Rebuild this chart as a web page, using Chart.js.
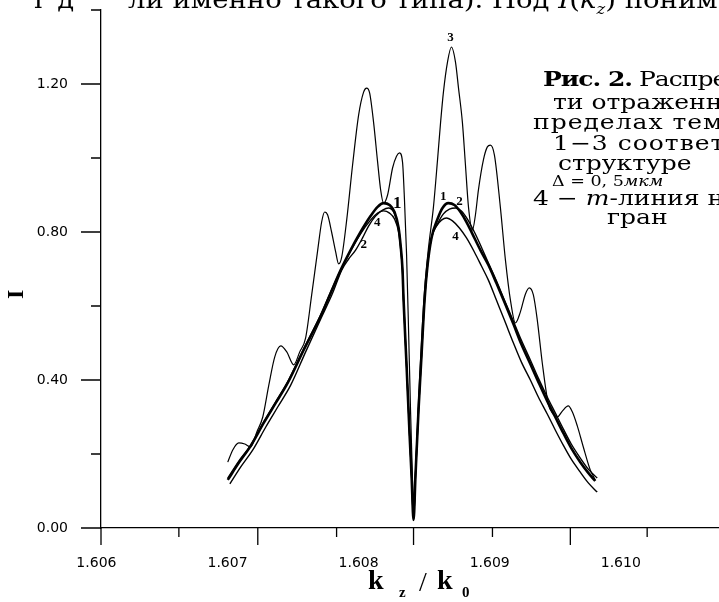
<!DOCTYPE html>
<html>
<head>
<meta charset="utf-8">
<script src="https://cdn.jsdelivr.net/npm/chart.js@4.4.1/dist/chart.umd.min.js"></script>
<style>
  html, body { margin: 0; padding: 0; background: #fff; }
  #wrap { position: relative; width: 719px; height: 602px; overflow: hidden; }
  #chart { position: absolute; left: 0; top: 0; }
  .t { position: absolute; white-space: nowrap; color: #000; line-height: 1; }
  .cap { font-family: "DejaVu Serif", serif; font-size: 20px; transform: scaleX(1.25); transform-origin: 0 0; }
  .top { font-family: "DejaVu Serif", serif; font-size: 25px; transform: scaleX(1.1); transform-origin: 0 0; }
  .kk { font-family: "Liberation Serif", serif; font-weight: bold; font-size: 28px; }
  .sb { font-family: "Liberation Serif", serif; font-weight: bold; font-size: 15px; }
</style>
</head>
<body>
<div id="wrap">
  <canvas id="chart" width="719" height="602"></canvas>

  <div class="t top" style="left:34px; top:-13px;">г д</div>
  <div class="t top" style="left:128px; top:-13px;">ли именно такого типа). Под <i>I</i>(<i>k<sub style="font-size:15px">z</sub></i>) понимается</div>

  <div class="t cap" style="left:543px; top:69px; letter-spacing:-0.8px;"><b>Рис. 2.</b> Распределение</div>
  <div class="t cap" style="left:553px; top:92px;">ти отраженного</div>
  <div class="t cap" style="left:533px; top:112px; letter-spacing:0.8px;">пределах темного</div>
  <div class="t cap" style="left:553px; top:133px; letter-spacing:0.8px;">1−3 соответствуют</div>
  <div class="t cap" style="left:558px; top:153px;">структуре</div>
  <div class="t cap" style="left:552px; top:174px; font-size:14px;">Δ = 0, 5<i>мкм</i></div>
  <div class="t cap" style="left:533px; top:188px;">4 − <i>m</i>-линия на</div>
  <div class="t cap" style="left:607px; top:207px;">гран</div>

  <div class="t kk" style="left:368px; top:566px;">k</div>
  <div class="t sb" style="left:399px; top:585px;">z</div>
  <div class="t kk" style="left:419px; top:568px; font-weight:normal;">/</div>
  <div class="t kk" style="left:437px; top:566px;">k</div>
  <div class="t sb" style="left:462px; top:585px;">0</div>

  <div class="t kk" style="left:7px; top:279px; font-size:24px; transform:rotate(-90deg); transform-origin:8px 12px;">I</div>
</div>

<script>
// reflected intensity I vs kz/k0
var curve1 = [
  [1.607002,0.130],[1.607086,0.176],[1.607177,0.222],[1.607276,0.284],[1.607368,0.338],[1.607459,0.392],
  [1.607581,0.481],[1.607711,0.573],[1.607787,0.635],[1.607863,0.697],[1.607939,0.751],[1.608015,0.800],
  [1.608091,0.843],[1.608145,0.868],[1.608190,0.878],[1.608236,0.873],[1.608274,0.854],[1.608305,0.811],
  [1.608320,0.765],[1.608335,0.697],[1.608343,0.616],[1.608366,0.438],[1.608388,0.259],[1.608404,0.141],
  [1.608419,0.022],
  [1.608434,0.143],[1.608457,0.319],[1.608480,0.468],[1.608503,0.616],[1.608526,0.711],[1.608556,0.784],
  [1.608602,0.835],[1.608640,0.865],[1.608685,0.878],[1.608731,0.873],[1.608777,0.854],[1.608823,0.827],
  [1.608868,0.795],[1.608929,0.751],[1.608990,0.711],[1.609051,0.662],[1.609112,0.611],[1.609181,0.551],
  [1.609241,0.497],[1.609310,0.443],[1.609371,0.395],[1.609439,0.343],[1.609500,0.300],[1.609561,0.257],
  [1.609622,0.216],[1.609691,0.178],[1.609752,0.149],[1.609805,0.127]
];
var curve2 = [
  [1.607018,0.119],[1.607101,0.165],[1.607193,0.211],[1.607292,0.273],[1.607383,0.327],[1.607482,0.386],
  [1.607596,0.476],[1.607711,0.565],[1.607802,0.635],[1.607871,0.697],[1.607924,0.727],[1.607977,0.751],
  [1.608030,0.784],[1.608076,0.816],[1.608129,0.843],[1.608183,0.859],[1.608228,0.865],[1.608267,0.854],
  [1.608305,0.811],[1.608320,0.765],[1.608335,0.697],[1.608343,0.616],[1.608366,0.438],[1.608388,0.259],
  [1.608404,0.141],[1.608419,0.022],
  [1.608434,0.143],[1.608457,0.319],[1.608480,0.468],[1.608503,0.616],[1.608526,0.711],[1.608556,0.784],
  [1.608602,0.822],[1.608647,0.849],[1.608693,0.862],[1.608739,0.865],[1.608784,0.857],[1.608830,0.835],
  [1.608883,0.800],[1.608937,0.759],[1.608990,0.716],[1.609051,0.668],[1.609112,0.616],[1.609181,0.559],
  [1.609241,0.508],[1.609310,0.454],[1.609371,0.405],[1.609439,0.354],[1.609500,0.311],[1.609561,0.268],
  [1.609622,0.227],[1.609691,0.189],[1.609752,0.159],[1.609820,0.135]
];
var curve3 = [
  [1.607002,0.178],[1.607040,0.211],[1.607086,0.230],[1.607132,0.227],[1.607177,0.219],[1.607223,0.259],
  [1.607269,0.300],[1.607315,0.386],[1.607360,0.462],[1.607406,0.492],[1.607452,0.476],[1.607505,0.441],
  [1.607551,0.476],[1.607596,0.514],[1.607642,0.630],[1.607688,0.751],[1.607718,0.827],[1.607741,0.854],
  [1.607764,0.846],[1.607794,0.800],[1.607825,0.746],[1.607848,0.714],[1.607871,0.732],[1.607909,0.832],
  [1.607954,0.981],[1.608000,1.116],[1.608038,1.178],[1.608061,1.189],[1.608084,1.176],[1.608114,1.097],
  [1.608145,0.989],[1.608168,0.914],[1.608190,0.878],[1.608221,0.900],[1.608259,0.973],[1.608289,1.005],
  [1.608312,1.014],[1.608335,0.989],[1.608350,0.886],[1.608366,0.738],[1.608381,0.535],[1.608396,0.319],
  [1.608411,0.130],[1.608419,0.022],
  [1.608434,0.157],[1.608457,0.346],[1.608480,0.508],[1.608503,0.643],[1.608533,0.757],[1.608571,0.868],
  [1.608602,0.995],[1.608625,1.095],[1.608647,1.178],[1.608678,1.259],[1.608708,1.300],[1.608739,1.259],
  [1.608762,1.189],[1.608792,1.095],[1.608815,0.981],[1.608838,0.868],[1.608868,0.805],[1.608891,0.846],
  [1.608914,0.914],[1.608952,0.995],[1.608982,1.030],[1.609005,1.035],[1.609036,1.008],[1.609081,0.868],
  [1.609120,0.724],[1.609158,0.616],[1.609196,0.554],[1.609234,0.584],[1.609272,0.632],[1.609302,0.649],
  [1.609333,0.630],[1.609363,0.562],[1.609401,0.446],[1.609447,0.335],[1.609485,0.308],[1.609516,0.300],
  [1.609554,0.316],[1.609599,0.330],[1.609630,0.314],[1.609668,0.276],[1.609714,0.219],[1.609767,0.157],
  [1.609805,0.130]
];
var curve4 = [
  [1.607002,0.135],[1.607086,0.181],[1.607177,0.224],[1.607276,0.286],[1.607368,0.341],[1.607459,0.395],
  [1.607581,0.484],[1.607711,0.576],[1.607787,0.638],[1.607863,0.697],[1.607939,0.749],[1.608015,0.795],
  [1.608091,0.832],[1.608145,0.851],[1.608190,0.857],[1.608236,0.851],[1.608274,0.835],[1.608305,0.800],
  [1.608320,0.757],[1.608335,0.692],[1.608343,0.616],[1.608366,0.438],[1.608388,0.259],[1.608404,0.141],
  [1.608419,0.022],
  [1.608434,0.143],[1.608457,0.319],[1.608480,0.468],[1.608503,0.616],[1.608526,0.711],[1.608556,0.784],
  [1.608594,0.816],[1.608632,0.832],[1.608670,0.838],[1.608716,0.830],[1.608769,0.811],[1.608823,0.784],
  [1.608883,0.746],[1.608937,0.708],[1.608990,0.670],[1.609051,0.616],[1.609112,0.562],[1.609181,0.500],
  [1.609241,0.449],[1.609310,0.400],[1.609371,0.354],[1.609439,0.308],[1.609500,0.265],[1.609561,0.224],
  [1.609622,0.186],[1.609691,0.151],[1.609752,0.122],[1.609820,0.097]
];

// axes
var xLabels = [1.606, 1.607, 1.608, 1.609, 1.610];
var xMajorMarks = [1.606035, 1.607231, 1.608419, 1.609615];
var xMinorMarks = [1.606629, 1.607832, 1.609021, 1.610201];
var yLabels = [0, 0.4, 0.8, 1.2];
var yMinorMarks = [0.2, 0.6, 1.0, 1.4];

// curve numbers written next to the lines
var tagText = ['3', '1', '2', '4', '1', '2', '4'];
var tagX = [1.608701, 1.608295, 1.608040, 1.608142, 1.608645, 1.608769, 1.608739];
var tagY = [1.325, 0.878, 0.765, 0.824, 0.895, 0.882, 0.787];

var toPts = (arr) => arr.map(p => ({x: p[0], y: p[1]}));

var tickMarks = {
  id: 'tickMarks',
  afterDraw: (chart) => {
    var ctx = chart.ctx;
    var xs = chart.scales.x, ys = chart.scales.y;
    var bot = chart.chartArea.bottom, left = chart.chartArea.left;
    ctx.save();
    ctx.strokeStyle = '#000';
    ctx.lineWidth = 1.3;
    ctx.beginPath();
    xMajorMarks.forEach(v => { var p = xs.getPixelForValue(v); ctx.moveTo(p, bot); ctx.lineTo(p, bot + 17); });
    xMinorMarks.forEach(v => { var p = xs.getPixelForValue(v); ctx.moveTo(p, bot); ctx.lineTo(p, bot + 9); });
    yLabels.forEach(v => { var p = ys.getPixelForValue(v); ctx.moveTo(left, p); ctx.lineTo(left - 20, p); });
    yMinorMarks.forEach(v => { var p = ys.getPixelForValue(v); ctx.moveTo(left, p); ctx.lineTo(left - 10, p); });
    ctx.stroke();
    // curve numbers
    ctx.fillStyle = '#000';
    ctx.textAlign = 'center';
    ctx.textBaseline = 'middle';
    for (var i = 0; i < tagText.length; i++) {
      ctx.font = (i == 1 ? 'bold 17px' : 'bold 13px') + ' "Liberation Serif", serif';
      ctx.fillText(tagText[i], xs.getPixelForValue(tagX[i]), ys.getPixelForValue(tagY[i]));
    }
    ctx.restore();
  }
};

var mk = (arr, w) => ({
  data: toPts(arr),
  borderColor: '#000',
  borderWidth: w,
  pointRadius: 0,
  fill: false,
  cubicInterpolationMode: 'monotone'
});

// keep the plot box fixed: no extra room for half labels
var noPad = (s) => { s.paddingTop = 0; s.paddingBottom = 0; s.paddingLeft = 0; s.paddingRight = 0; };

var ctx = document.getElementById('chart').getContext('2d');
var chart = new Chart(ctx, {
  type: 'line',
  data: {
    datasets: [mk(curve1, 2.6), mk(curve2, 1.4), mk(curve3, 1.2), mk(curve4, 1.4)]
  },
  options: {
    responsive: false,
    animation: false,
    devicePixelRatio: 1,
    layout: { padding: { top: 10, right: 0, bottom: 0, left: 0 } },
    plugins: { legend: { display: false }, tooltip: { enabled: false } },
    scales: {
      x: {
        type: 'linear',
        min: 1.606035,
        max: 1.610749,
        afterBuildTicks: (s) => { s.ticks = xLabels.map(v => ({value: v})); },
        afterFit: (s) => { s.height = 74; noPad(s); },
        ticks: {
          callback: (v) => Number(v).toFixed(3),
          color: '#000',
          font: { family: 'DejaVu Sans', size: 14 },
          padding: 7,
          maxRotation: 0,
          autoSkip: false
        },
        grid: { drawOnChartArea: false, tickLength: 20, tickColor: 'rgba(0,0,0,0)' },
        border: { color: '#000', width: 1.3 }
      },
      y: {
        min: 0,
        max: 1.4,
        afterBuildTicks: (s) => { s.ticks = yLabels.map(v => ({value: v})); },
        afterFit: (s) => { s.width = 101; noPad(s); },
        ticks: {
          callback: (v) => Number(v).toFixed(2),
          color: '#000',
          font: { family: 'DejaVu Sans', size: 14 },
          padding: 13
        },
        grid: { drawOnChartArea: false, tickLength: 20, tickColor: 'rgba(0,0,0,0)' },
        border: { color: '#000', width: 1.3 }
      }
    }
  },
  plugins: [tickMarks]
});
</script>
</body>
</html>
